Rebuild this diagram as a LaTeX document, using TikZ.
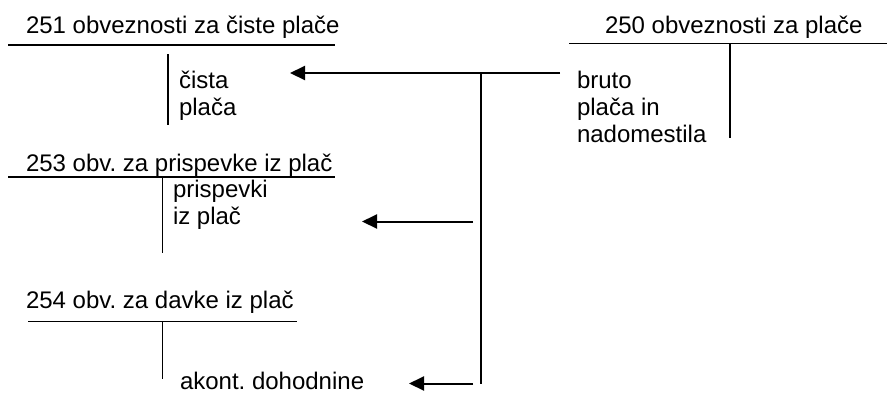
\documentclass[tikz,border=0pt]{standalone}
\usepackage{fontspec}
\setmainfont{Liberation Sans}
\usetikzlibrary{arrows.meta}
\frenchspacing
\begin{document}
\begin{tikzpicture}[x=1pt,y=-1pt,
  lbl/.style={anchor=base west,inner sep=0pt,outer sep=0pt,font=\fontsize{24}{27}\selectfont},
  acc/.style={line width=1.8pt},
  flow/.style={line width=2pt,-{Triangle[length=15pt,width=14pt]}},
  trunk/.style={line width=2pt}]
\fill[white] (0,0) rectangle (887,392);
\useasboundingbox (0,0) rectangle (887,392);
% account 251
\node[lbl] (t251) at (26,33) {251 obveznosti za čiste plače};
\coordinate (a251l) at (8,45); \coordinate (a251r) at (335,45);
\coordinate (v251t) at (168,54); \coordinate (v251b) at (168,125);
\draw[acc] (a251l) -- (a251r);
\draw[acc] (v251t) -- (v251b);
\node[lbl] (c1) at (179,88) {čista};
\node[lbl] (c2) at (179,115) {plača};
% account 250
\node[lbl] (t250) at (605,33) {250 obveznosti za plače};
\coordinate (a250l) at (569,43.5); \coordinate (a250r) at (887,43.5);
\coordinate (v250t) at (730,43.5); \coordinate (v250b) at (730,138);
\draw[acc] (a250l) -- (a250r);
\draw[acc] (v250t) -- (v250b);
\node[lbl] (b1) at (577,88) {bruto};
\node[lbl] (b2) at (577,115) {plača in};
\node[lbl] (b3) at (577,142) {nadomestila};
% account 253
\node[lbl] (t253) at (26,171) {253 obv. za prispevke iz plač};
\coordinate (a253l) at (8,177); \coordinate (a253r) at (335,177);
\coordinate (v253t) at (162.5,177); \coordinate (v253b) at (162.5,253);
\draw[acc] (a253l) -- (a253r);
\draw[acc] (v253t) -- (v253b);
\node[lbl] (p1) at (173,197) {prispevki};
\node[lbl] (p2) at (173,224) {iz plač};
% account 254
\node[lbl] (t254) at (26,308) {254 obv. za davke iz plač};
\coordinate (a254l) at (28,321.5); \coordinate (a254r) at (297,321.5);
\coordinate (v254t) at (162.5,321.5); \coordinate (v254b) at (162.5,379);
\draw[acc] (a254l) -- (a254r);
\draw[acc] (v254t) -- (v254b);
\node[lbl] (d1) at (180,389) {akont. dohodnine};
% connectors
\coordinate (s1) at (560,73); \coordinate (e1) at (290,73);
\coordinate (jt) at (481,73); \coordinate (jb) at (481,384);
\coordinate (s2) at (473,221.5); \coordinate (e2) at (362,221.5);
\coordinate (s3) at (473,383.5); \coordinate (e3) at (409,383.5);
\draw[flow] (s1) -- (e1);
\draw[trunk] (jt) -- (jb);
\draw[flow] (s2) -- (e2);
\draw[flow] (s3) -- (e3);
\end{tikzpicture}
\end{document}
